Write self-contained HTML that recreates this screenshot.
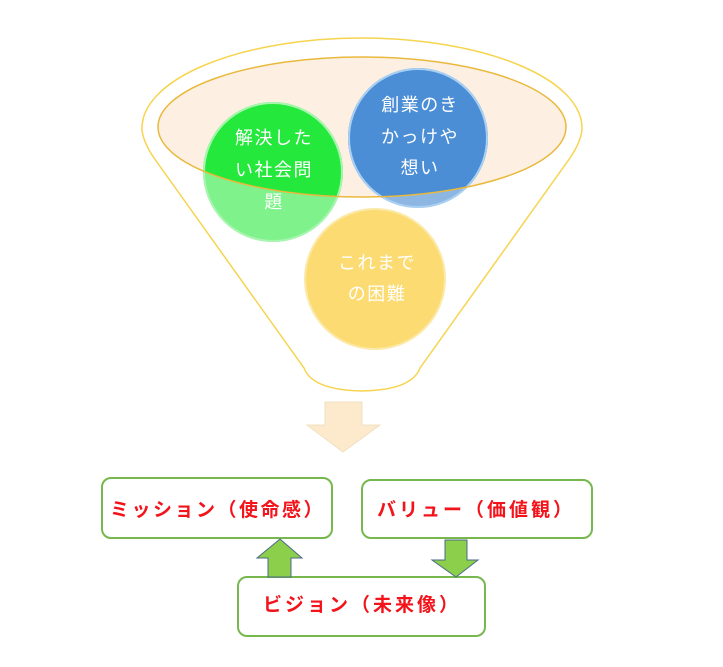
<!DOCTYPE html>
<html><head><meta charset="utf-8"><style>
body{margin:0;background:#fff;}
svg{display:block}
text{font-family:"Liberation Sans","Noto Sans CJK JP",sans-serif;}
</style></head><body>
<svg width="723" height="667" viewBox="0 0 723 667" xmlns="http://www.w3.org/2000/svg">
<defs>
<clipPath id="ec"><ellipse cx="362" cy="127" rx="204" ry="70"/></clipPath>
</defs>
<path d="M142,128 A220,90 0 0 1 582,128 Q582,140 570,158 L420,368 Q412,390 362,391 Q312,390 304,368 L154,158 Q142,140 142,128 Z" fill="#fff" stroke="#f6d44e" stroke-width="1.5"/>
<ellipse cx="362" cy="127" rx="204" ry="70" fill="#fdf0e2"/>
<circle cx="273" cy="172" r="70" fill="#7ff28c"/>
<circle cx="418" cy="138" r="70" fill="#8db7e2"/>
<circle cx="375" cy="279" r="70" fill="#fcdb72" stroke="#fbe9a8" stroke-width="2"/>
<g clip-path="url(#ec)">
<circle cx="273" cy="172" r="70" fill="#24e83c"/>
<circle cx="418" cy="138" r="70" fill="#4b8ed6"/>
</g>
<circle cx="418" cy="138" r="69" fill="none" stroke="#a9d0f2" stroke-width="2"/>
<circle cx="273" cy="172" r="69" fill="none" stroke="#a8f5b0" stroke-width="2"/>
<ellipse cx="362" cy="127" rx="204" ry="70" fill="none" stroke="#e9b93e" stroke-width="1.5"/>
<g fill="#fff" font-size="18" text-anchor="middle" letter-spacing="1.5">
<text x="274" y="144">解決した</text>
<text x="274" y="176">い社会問</text>
<text x="274" y="208">題</text>
<text x="420" y="111">創業のき</text>
<text x="420" y="143">かっけや</text>
<text x="420" y="174">想い</text>
<text x="377" y="269">これまで</text>
<text x="377" y="300">の困難</text>
</g>
<path d="M325,402 L362,402 L362,425 L380,425 L343,452 L307,425 L325,425 Z" fill="#fde9cc" stroke="#f0e0c0" stroke-width="1"/>
<rect x="102" y="478" width="230" height="60" rx="9" fill="#fff" stroke="#77b84e" stroke-width="2"/>
<rect x="362" y="480" width="230" height="58" rx="9" fill="#fff" stroke="#77b84e" stroke-width="2"/>
<rect x="238" y="577" width="247" height="59" rx="9" fill="#fff" stroke="#77b84e" stroke-width="2"/>
<g fill="#f2131b" font-size="19" font-weight="bold">
<text x="110" y="516" letter-spacing="2.5">ミッション（使命感）</text>
<text x="377" y="516" letter-spacing="3">バリュー（価値観）</text>
<text x="263" y="611" letter-spacing="3">ビジョン（未来像）</text>
</g>
<path d="M268,577 L268,558 L257,558 L280,539 L302,558 L291,558 L291,577 Z" fill="#8ccf4a" stroke="#4a6a8a" stroke-width="1"/>
<path d="M445,540 L467,540 L467,560 L478,560 L456,577 L432,560 L445,560 Z" fill="#8ccf4a" stroke="#4a6a8a" stroke-width="1"/>
</svg>
</body></html>
